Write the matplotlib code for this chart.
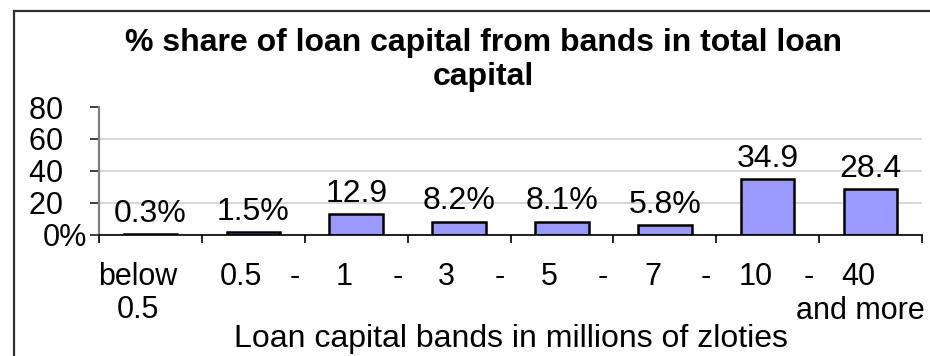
import matplotlib
matplotlib.use('Agg')
import matplotlib.pyplot as plt
from matplotlib.patches import Rectangle
import numpy as np

# loan capital bands (millions of zloties) and their % share
band_labels = ['below\n0.5', '0.5', '1', '3', '5', '7', '10', '40']
last_band_note = 'and more'
shares = [0.3, 1.5, 12.9, 8.2, 8.1, 5.8, 34.9, 28.4]
value_labels = ['0.3%', '1.5%', '12.9', '8.2%', '8.1%', '5.8%', '34.9', '28.4']
y_ticks = [0, 20, 40, 60, 80]

plt.rcParams['font.family'] = ['Liberation Sans', 'DejaVu Sans']

fig = plt.figure(figsize=(9.3, 3.56), dpi=100)
ax = fig.add_axes([0.1065, 0.3407, 0.8849, 0.3587])

# outer chart frame, cropped on the right and bottom
fig.patches.append(Rectangle((0.015, -0.2), 1.2, 0.968 + 0.2, transform=fig.transFigure,
                             fill=False, edgecolor='#303030', linewidth=1.6))

x = np.arange(len(shares))
bars = ax.bar(x, shares, width=0.52, color='#9999ff', edgecolor='black', linewidth=1.8, zorder=3)

for b, txt in zip(bars, value_labels):
    ax.annotate(txt, (b.get_x() + b.get_width() / 2, b.get_height()),
                xytext=(0, 9), textcoords='offset points',
                ha='center', va='baseline', fontsize=23, zorder=4)

ax.set_xlim(-0.5, len(shares) - 0.5)
ax.set_ylim(0, 80)

# y axis
ax.set_yticks(y_ticks)
ax.set_yticklabels([f'{v}%' if v == 0 else f'{v}\u2002 ' for v in y_ticks], fontsize=22)
ax.tick_params(axis='y', direction='out', length=6.5, width=1.2, color='#202020', pad=2)
ax.yaxis.grid(True, color='#d0d0d0', linewidth=1.2, zorder=0)
ax.get_ygridlines()[-1].set_visible(False)

# x axis: tick marks between bands, labels near band centres
lab_pad = 20
row_step = 24
ax.set_xticks(np.arange(-0.5, len(shares), 1))
ax.set_xticklabels([])
ax.set_xticks(x - 0.12, minor=True)
ax.set_xticklabels(band_labels, minor=True, fontsize=22, linespacing=1.1)
ax.tick_params(axis='x', which='major', direction='out', length=6, width=1.2, color='black')
ax.tick_params(axis='x', which='minor', length=0, pad=lab_pad)

# dashes between band bounds
for xi in x[1:-1]:
    ax.annotate('-', (xi + 0.4, 0), xycoords=('data', 'axes fraction'),
                xytext=(0, -lab_pad), textcoords='offset points',
                ha='center', va='top', fontsize=22)

# second line under the open-ended top band
ax.annotate(last_band_note, (x[-1] - 0.1, 0), xycoords=('data', 'axes fraction'),
            xytext=(0, -lab_pad - row_step), textcoords='offset points',
            ha='center', va='top', fontsize=22)

for side in ['top', 'right']:
    ax.spines[side].set_visible(False)
ax.spines['left'].set_color('#808080')
ax.spines['left'].set_linewidth(1.6)
ax.spines['bottom'].set_color('black')
ax.spines['bottom'].set_linewidth(1.2)
ax.spines['bottom'].set_zorder(5)

ax.set_xlabel('Loan capital bands in millions of zloties', fontsize=23)
ax.xaxis.set_label_coords(0.5, -0.70)

fig.text(0.52, 0.922, '% share of loan capital from bands in total loan\ncapital',
         ha='center', va='top', fontsize=23, fontweight='bold', linespacing=1.2)

fig.savefig('out.png', dpi=100)
